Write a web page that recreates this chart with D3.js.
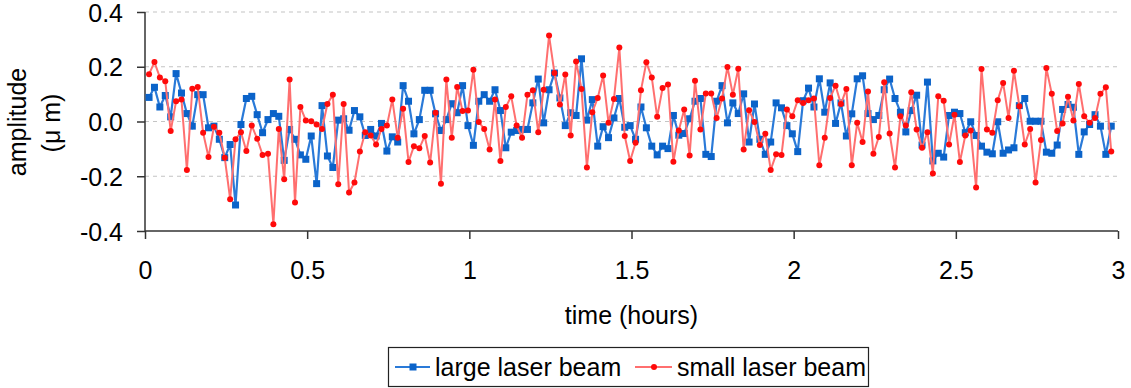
<!DOCTYPE html>
<html>
<head>
<meta charset="utf-8">
<script src="https://cdn.jsdelivr.net/npm/d3@7"></script>
<style>
  body { margin: 0; background: #fff; }
  svg text { font-family: "Liberation Sans", Arial, sans-serif; fill: #000; }
</style>
</head>
<body>
<svg width="1131" height="388"></svg>
<script>
// amplitude (µm), one sample per minute
const largeBeam = [
  0.088, 0.125, 0.053, 0.095, 0.017, 0.175, 0.104, 0.029, -0.017, 0.098,
  0.098, -0.023, -0.017, -0.065, -0.132, -0.084, -0.305, -0.011, 0.084, 0.092,
  0.025, -0.041, 0.007, 0.029, 0.019, -0.142, -0.029, -0.065, -0.122, -0.138,
  -0.053, -0.227, 0.058, -0.126, -0.168, 0.005, 0.010, -0.032, 0.040, 0.017,
  -0.051, -0.029, -0.053,
  -0.007, -0.108, -0.056, -0.075, 0.131, 0.074, -0.045, 0.007, 0.114, 0.114,
  0.028, -0.033, 0.007, 0.065, 0.032, 0.131, -0.015, -0.087, 0.074, 0.098,
  0.074, 0.116, 0.040, -0.096, -0.039, -0.033, -0.029, -0.029, 0.068, 0.155,
  -0.005, 0.116, 0.177, 0.086, -0.015, 0.032, 0.022, 0.229, 0.005, 0.080,
  -0.090, -0.019, -0.059, 0.013, 0.084,
  -0.021, -0.015, -0.065, 0.053, -0.023, -0.090, -0.122, -0.090, -0.099, 0.022,
  -0.050, -0.044, 0.010, 0.074, 0.084, -0.120, -0.128, 0.074, 0.131, -0.005,
  0.068, 0.029, 0.101, -0.075, 0.064, -0.065, -0.120, -0.075, 0.068, 0.050,
  -0.015, -0.045, -0.110, 0.076, 0.122, 0.053, 0.156, 0.034, 0.141, -0.007,
  0.068, -0.053, 0.028, 0.156,
  0.167, 0.029, 0.007, 0.022, 0.116, 0.155, 0.084, 0.034, -0.038, 0.040,
  0.096, -0.086, 0.144, -0.144, -0.116, -0.130, 0.022, 0.034, 0.029, -0.041,
  -0.001, -0.051, -0.090, -0.112, -0.118, -0.001, -0.116, -0.104, -0.096, 0.058,
  0.084, 0.001, 0.001, 0.001, -0.112, -0.116, -0.086, 0.044, 0.062, 0.052,
  -0.120, -0.038, -0.011, 0.025, -0.017, -0.120, -0.017
];
const smallBeam = [
  0.173, 0.217, 0.161, 0.147, -0.035, 0.074, 0.080, -0.177, 0.120, 0.126,
  -0.041, -0.130, -0.019, -0.041, -0.132, -0.284, -0.065, -0.039, -0.108, -0.015,
  -0.063, -0.122, -0.118, -0.375, -0.027, -0.211, 0.153, -0.296, 0.053, 0.004,
  0.001, -0.011, -0.027, 0.064, 0.098, -0.229, 0.064, -0.259, -0.223, -0.110,
  -0.039, -0.051, -0.084,
  -0.027, -0.015, 0.080, -0.059, 0.047, -0.148, -0.090, -0.098, -0.053, -0.150,
  0.032, -0.227, 0.153, -0.059, 0.126, 0.038, 0.040, 0.189, -0.002, -0.027,
  -0.102, 0.080, -0.144, 0.053, 0.092, -0.015, -0.059, 0.098, 0.114, -0.039,
  0.116, 0.314, 0.177, 0.062, 0.172, -0.051, 0.219, 0.119, -0.168, 0.034,
  0.086, 0.168, -0.005, 0.082, 0.270,
  -0.053, -0.144, -0.078, 0.114, 0.216, 0.161, 0.017, 0.122, 0.135, -0.147,
  -0.033, 0.044, -0.124, 0.149, -0.029, 0.102, 0.102, 0.013, 0.084, 0.199,
  0.098, 0.193, -0.102, 0.041, -0.002, -0.086, -0.045, -0.177, -0.120, -0.122,
  0.044, 0.019, 0.078, 0.068, 0.078, 0.084, -0.160, -0.059, 0.086, 0.131,
  0.064, 0.119, -0.160, -0.005,
  -0.075, 0.110, -0.118, -0.057, 0.143, -0.044, -0.168, 0.019, -0.015, 0.107,
  -0.029, -0.096, -0.039, -0.190, 0.092, 0.076, -0.084, 0.025, -0.148, -0.051,
  -0.033, -0.241, 0.192, -0.029, -0.041, 0.078, 0.141, 0.013, 0.185, 0.056,
  -0.084, -0.027, -0.223, -0.068, 0.195, 0.101, -0.035, -0.007, 0.090, 0.004,
  0.137, 0.019, -0.005, 0.013, 0.101, 0.125, -0.110
];
const startHours = 0.0125, stepHours = 1 / 60;
const xTicks = [0, 0.5, 1, 1.5, 2, 2.5, 3];
const yTicks = [-0.4, -0.2, 0, 0.2, 0.4];
const seriesNames = ["large laser beam", "small laser beam"];

const svg = d3.select("svg");
const plotLeft = 145, plotRight = 1118, plotTop = 12, plotBottom = 231;

const x = d3.scaleLinear().domain([0, 3]).range([plotLeft, plotRight]);
const y = d3.scaleLinear().domain([-0.4, 0.4]).range([plotBottom, plotTop]);
const t = i => startHours + i * stepHours;

// gridlines
svg.append("g").selectAll("line")
  .data(yTicks.filter(v => v > -0.4))
  .enter().append("line")
  .attr("x1", plotLeft).attr("x2", plotRight)
  .attr("y1", d => y(d)).attr("y2", d => y(d))
  .attr("stroke", "#c4c4c4").attr("stroke-width", 1.2)
  .attr("stroke-dasharray", "4,4");

// axes
const yAxis = svg.append("g").attr("transform", "translate(" + plotLeft + ",0)")
  .call(d3.axisLeft(y).tickValues(yTicks).tickFormat(d => d.toFixed(1)).tickSize(8).tickPadding(14));
const xAxis = svg.append("g").attr("transform", "translate(0," + plotBottom + ")")
  .call(d3.axisBottom(x).tickValues(xTicks).tickFormat(d => d).tickSize(8).tickPadding(22));
[xAxis, yAxis].forEach(a => {
  a.select(".domain").attr("stroke", "#333").attr("stroke-width", 1.5);
  a.selectAll(".tick line").attr("stroke", "#333").attr("stroke-width", 1.5);
  a.selectAll("text").attr("font-size", 25).attr("font-family", "Liberation Sans, Arial, sans-serif").attr("fill", "#000");
});
yAxis.selectAll("text").attr("dy", "0.36em");
xAxis.select(".domain").attr("d", "M" + plotLeft + ",0H" + plotRight);
yAxis.select(".domain").attr("d", "M0," + plotTop + "V" + plotBottom);

// series
const line = d3.line().x((d, i) => x(t(i))).y(d => y(d));

svg.append("path").datum(largeBeam)
  .attr("d", line).attr("fill", "none")
  .attr("stroke", "#2a7ad8").attr("stroke-width", 2.2);
svg.append("g").selectAll("rect").data(largeBeam).enter().append("rect")
  .attr("x", (d, i) => x(t(i)) - 3.5).attr("y", d => y(d) - 3.5)
  .attr("width", 7).attr("height", 7).attr("fill", "#0b63c9");

svg.append("path").datum(smallBeam)
  .attr("d", line).attr("fill", "none")
  .attr("stroke", "#ff6f6f").attr("stroke-width", 2);
svg.append("g").selectAll("circle").data(smallBeam).enter().append("circle")
  .attr("cx", (d, i) => x(t(i))).attr("cy", d => y(d))
  .attr("r", 3).attr("fill", "#ff0a0a");

// axis titles
svg.append("text")
  .attr("x", (plotLeft + plotRight) / 2).attr("y", 324)
  .attr("text-anchor", "middle").attr("font-size", 25)
  .text("time (hours)");
svg.append("text")
  .attr("transform", "translate(26,122) rotate(-90)")
  .attr("text-anchor", "middle").attr("font-size", 25)
  .text("amplitude");
svg.append("text")
  .attr("transform", "translate(60,123) rotate(-90)")
  .attr("text-anchor", "middle").attr("font-size", 25)
  .text("(μ m)");

// legend
const legend = svg.append("g");
legend.append("rect")
  .attr("x", 388.5).attr("y", 347.5).attr("width", 480).attr("height", 39)
  .attr("fill", "#fff").attr("stroke", "#222").attr("stroke-width", 1.2);
const ly = 367;
legend.append("line").attr("x1", 395).attr("x2", 430).attr("y1", ly).attr("y2", ly)
  .attr("stroke", "#2a7ad8").attr("stroke-width", 2.2);
legend.append("rect").attr("x", 409.5).attr("y", ly - 3.5).attr("width", 7).attr("height", 7)
  .attr("fill", "#0b63c9");
legend.append("text").attr("x", 435).attr("y", ly + 9).attr("font-size", 25).text(seriesNames[0]);
legend.append("line").attr("x1", 635).attr("x2", 672).attr("y1", ly).attr("y2", ly)
  .attr("stroke", "#ff6f6f").attr("stroke-width", 2);
legend.append("circle").attr("cx", 654).attr("cy", ly).attr("r", 3).attr("fill", "#ff0a0a");
legend.append("text").attr("x", 677).attr("y", ly + 9).attr("font-size", 25).text(seriesNames[1]);
</script>
</body>
</html>
